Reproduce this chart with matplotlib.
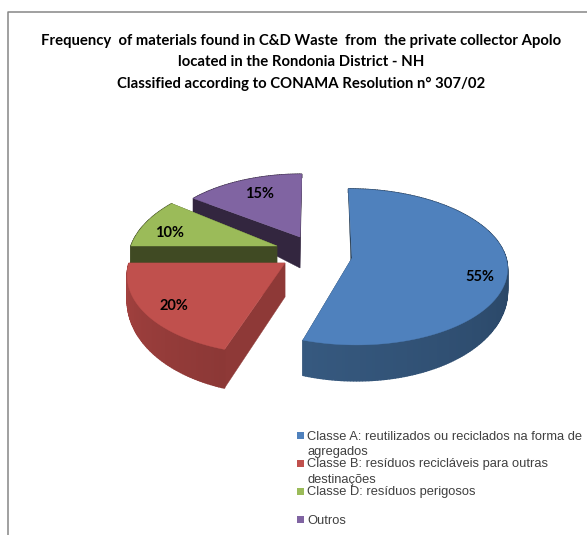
import numpy as np
import matplotlib
matplotlib.use('Agg')
import matplotlib.pyplot as plt
from matplotlib.colors import to_rgb
from matplotlib.patches import Polygon, Rectangle

title_lines = ['Frequency  of materials found in C&D Waste  from  the private collector Apolo',
               'located in the Rondonia District - NH',
               'Classified according to CONAMA Resolution n° 307/02']
shares = [55, 20, 10, 15]
pct_labels = ['55%', '20%', '10%', '15%']
legend_lines = [['Classe A: reutilizados ou reciclados na forma de', 'agregados'],
                ['Classe B: resíduos recicláveis para outras', 'destinações'],
                ['Classe D: resíduos perigosos'],
                ['Outros']]

top_colors = ['#4F81BD', '#C0504D', '#9BBB59', '#8064A2']
face_colors = ['#1D3349', '#8E3937', '#404A23', '#33263F']
side_start = ['#1E344E', '#8C3836', '#404A23', '#33263F']
side_end = ['#36597F', '#A54240', '#404A23', '#33263F']

# exploded slices were placed by hand in the original, so each has its own layout
apex = [(352, 258), (285, 263), (277, 246), (300, 237)]
radius_x = [154, 156, 146, 142]
radius_y = [77, 81, 77, 70]
lean = [4, -6, -10, -2]
rim_depth = [20, 22, 17, 31]
depth_slope = [0.8, 0.8, 0.0, 0.88]
apex_depth = [36, 34, 17, 31]
label_xy = [(480, 277), (174, 306), (170, 233), (260, 194)]
draw_order = [0, 3, 2, 1]
persp = 0.114


def rim(i, theta):
    t = np.radians(theta)
    Y = -np.cos(t)
    s = 1 / (1 - persp * Y)
    x = apex[i][0] + (radius_x[i] * np.sin(t) + lean[i] * Y) * s
    y = apex[i][1] + radius_y[i] * Y * s
    return x, y, rim_depth[i] * (1 + depth_slope[i] * Y)


def cut_face(ax, i, theta):
    x, y, d = rim(i, theta)
    ax0, ay0 = apex[i]
    pts = [(ax0, ay0), (x, y), (x, y + d), (ax0, ay0 + apex_depth[i])]
    ax.add_patch(Polygon(pts, closed=True, fc=face_colors[i], ec=face_colors[i], lw=0.3))


fig = plt.figure(figsize=(5.87, 5.35), dpi=100)
ax = fig.add_axes([0, 0, 1, 1])
ax.set_xlim(0, 587)
ax.set_ylim(535, 0)
ax.axis('off')

# chart frame, only top and left are inside the picture
ax.plot([587, 8, 8], [11.5, 11.5, 535], color='#868686', lw=1.1)

edges = np.cumsum([0] + shares) * 3.6
for i in draw_order:
    start, end = edges[i], edges[i + 1]
    thetas = np.arange(start, end + 0.5, 1.0)
    x, y, d = rim(i, thetas)

    cut_face(ax, i, start)
    cut_face(ax, i, end)

    c0, c1 = np.array(to_rgb(side_start[i])), np.array(to_rgb(side_end[i]))
    # full-depth quads drawn back to front with a wide overlap, so no seams show
    for k in range(len(thetas) - 1):
        f = k / max(len(thetas) - 2, 1)
        col = c0 + (c1 - c0) * f
        quad = [(x[k], y[k]), (x[k + 1], y[k + 1]),
                (x[k + 1], y[k + 1] + d[k + 1]), (x[k], y[k] + d[k])]
        ax.add_patch(Polygon(quad, closed=True, fc=col, ec=col, lw=1.0))

    top = [apex[i]] + list(zip(x, y))
    ax.add_patch(Polygon(top, closed=True, fc=top_colors[i], ec=top_colors[i], lw=0.3))

for (lx, ly), s in zip(label_xy, pct_labels):
    ax.text(lx, ly, s, ha='center', va='center', family='Lato', weight='bold',
            fontsize=10.5, color='black')

for y, s in zip([41.5, 62.5, 83.5], title_lines):
    ax.text(301, y, s, ha='center', va='center', family='Lato', weight='bold',
            fontsize=10.7, color='black')

legend_y = [435, 463, 491, 519]
for i, lines in enumerate(legend_lines):
    ax.add_patch(Rectangle((297, legend_y[i] - 3.5), 7, 7, fc=top_colors[i], ec='none'))
    for j, s in enumerate(lines):
        ax.text(307, legend_y[i] + 1.5 + j * 16, s, ha='left', va='center',
                family='Liberation Sans', fontsize=9.3, color='#404040',
                bbox=dict(fc='white', ec='none', pad=0.3), zorder=3 + i)

fig.savefig('out.png', dpi=100)
